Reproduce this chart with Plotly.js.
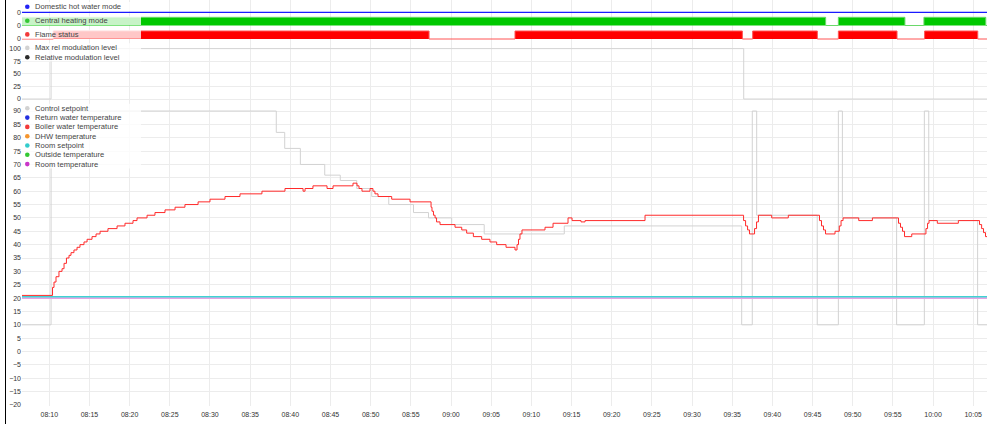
<!DOCTYPE html>
<html><head><meta charset="utf-8">
<script src="https://cdn.plot.ly/plotly-3.0.1.min.js"></script>
<style>html,body{margin:0;padding:0;background:#fff;} #chart{width:1000px;height:424px;}</style>
</head><body><div id="chart"></div>
<script>
const DAY = '2024-01-15 ';
const START = '08:06:36', END = '10:06:43';

const dhwModeTimes = ['08:06:36','10:06:43'];
const dhwModeValues = [0,0];

const chModeTimes = ['08:06:36','09:46:38','09:48:13','09:56:30','09:58:52','10:06:34','10:06:43'];
const chModeValues = [1,0,1,0,1,0,0];

const flameTimes = ['08:06:36','08:10:30','08:57:16','09:07:58','09:36:16','09:37:33','09:45:36','09:48:13','09:55:31','09:58:57','10:05:34','10:06:43'];
const flameValues = [0,1,0,1,0,1,0,1,0,1,0,0];

const maxModTimes = ['08:06:36','08:10:13','09:36:26','10:06:43'];
const maxModValues = [0,100,0,0];

const setpointTimes = ['08:06:36','08:10:13','08:38:15','08:39:18','08:41:15','08:44:17','08:46:13','08:48:16','08:50:08','08:52:15','08:55:20','08:57:12','09:00:05','09:04:08','09:14:06','09:36:11','09:37:30','09:38:03','09:45:35','09:48:13','09:48:43','09:55:28','09:58:55','09:59:28','10:05:33','10:06:43'];
const setpointValues = [10,90,82,76,70,66,64,61,58,55,52,50,47.5,44,47,10,90,51,10,90,50,10,90,49,10,10];

const boilerTimes = ['08:06:36','08:10:24','08:10:35','08:10:50','08:11:12','08:11:35','08:11:50','08:12:08','08:12:27','08:12:42','08:13:04','08:13:27','08:13:49','08:14:19','08:14:42','08:15:19','08:15:49','08:16:19','08:17:18','08:18:26','08:19:25','08:20:25','08:20:55','08:22:10','08:23:09','08:24:24','08:25:39','08:26:53','08:28:31','08:30:00','08:31:52','08:33:44','08:36:28','08:39:20','08:41:35','08:41:50','08:42:49','08:44:34','08:45:19','08:47:48','08:48:18','08:48:33','08:48:55','08:49:55','08:50:17','08:50:32','08:50:55','08:52:37','08:54:54','08:57:31','08:57:38','08:57:49','08:58:01','08:58:12','08:58:38','09:00:30','09:01:20','09:01:57','09:02:47','09:03:49','09:04:51','09:05:41','09:06:51','09:07:58','09:08:13','09:08:24','09:08:35','09:08:50','09:11:42','09:12:42','09:14:34','09:15:04','09:16:11','09:16:41','09:24:09','09:36:25','09:36:40','09:36:55','09:37:09','09:37:47','09:38:02','09:38:16','09:39:55','09:41:59','09:45:52','09:46:07','09:46:22','09:46:37','09:47:48','09:48:20','09:48:33','09:48:48','09:50:45','09:52:27','09:55:42','09:55:57','09:56:12','09:56:27','09:57:21','09:59:07','09:59:19','09:59:30','10:00:32','10:03:09','10:05:47','10:06:03','10:06:17','10:06:32','10:06:43'];
const boilerValues = [21,24,26,28,30,31,33,35,36,37,38,39,40,41,42,43,44,45,46,47,48,49,50,51,52,53,54,55,56,57,58,59,60,61,60,61,62,61,62,63,62,61,60,61,60,59,58,57,56,54,52.5,51,50,48.5,47.5,46.5,45.5,44.3,43,42,41,40,39,38,40,42,44,45.5,46.5,48,50,49,48.5,49,51,49,47,45.5,44,46,48.5,51,50,51,49,47,45.5,44,45,47,49,50,49,50,48,46.5,45,43,44,46,48,49,48,49,47.5,46,44.5,43,43];

const roomSetpointTimes = ['08:06:36','10:06:43'];
const roomSetpointValues = [20.5,20.5];
const roomTempTimes = ['08:06:36','10:06:43'];
const roomTempValues = [20,20];

const yTicksTemp = [-20,-15,-10,-5,0,5,10,15,20,25,30,35,40,45,50,55,60,65,70,75,80,85,90];
const yTicksMod = [0,25,50,75,100];
const xTickStart = '08:10:00';

const legendNames = [
  ['Domestic hot water mode'],
  ['Central heating mode'],
  ['Flame status'],
  ['Max rel modulation level','Relative modulation level'],
  ['Control setpoint','Return water temperature','Boiler water temperature','DHW temperature','Room setpoint','Outside temperature','Room temperature']
];
const legendColors = [
  ['#2323f5'],
  ['#33c833'],
  ['#f23a3a'],
  ['#d2d2d2','#2b2b2b'],
  ['#d2d2d2','#2330e0','#f23a3a','#f5962f','#33cccc','#33c833','#c936c9']
];

// ---------- layout geometry (pixels) ----------
const W = 1000, H = 424, ML = 22, MR = 13, MT = 0, MB = 18;
const PW = W - ML - MR, PH = H - MT - MB;
const px = x => (x - ML) / PW;
const py = y => 1 - (y - MT) / PH;
const dom = (top, bot) => [py(bot), py(top)];
const T = a => a.map(s => DAY + s);

const FONT = 'Liberation Sans, Arial, sans-serif';
const tickFont = {family: FONT, size: 7, color: '#333'};
const GRID = '#ececec';

const traces = [
  {x: T(dhwModeTimes), y: dhwModeValues, yaxis: 'y', type: 'scatter', mode: 'lines',
   line: {shape: 'hv', color: '#1a1aff', width: 1.3}, fill: 'tozeroy', fillcolor: '#1a1aff'},
  {x: T(chModeTimes), y: chModeValues, yaxis: 'y2', type: 'scatter', mode: 'lines',
   line: {shape: 'hv', color: '#6ad86a', width: 1}, fill: 'tozeroy', fillcolor: '#00c800'},
  {x: T(flameTimes), y: flameValues, yaxis: 'y3', type: 'scatter', mode: 'lines',
   line: {shape: 'hv', color: '#ff5555', width: 1}, fill: 'tozeroy', fillcolor: '#ff0000'},
  {x: T(maxModTimes), y: maxModValues, yaxis: 'y4', type: 'scatter', mode: 'lines',
   line: {shape: 'hv', color: '#d4d4d4', width: 1}},
  {x: T(setpointTimes), y: setpointValues, yaxis: 'y5', type: 'scatter', mode: 'lines',
   line: {shape: 'hv', color: '#d2d2d2', width: 1}},
  {x: T(roomTempTimes), y: roomTempValues, yaxis: 'y5', type: 'scatter', mode: 'lines',
   line: {shape: 'hv', color: '#e5a2e5', width: 1.6}},
  {x: T(roomSetpointTimes), y: roomSetpointValues, yaxis: 'y5', type: 'scatter', mode: 'lines',
   line: {shape: 'hv', color: '#3fd2d2', width: 1.3}},
  {x: T(boilerTimes), y: boilerValues, yaxis: 'y5', type: 'scatter', mode: 'lines',
   line: {shape: 'hv', color: '#ff2a2a', width: 1}}
];

function binAxis(top, bot, zeroPx, onePx) {
  const k = zeroPx - onePx;
  return {domain: dom(top, bot), range: [-(bot - zeroPx) / k, 1 + (onePx - top) / k],
    tickvals: [0], ticktext: ['0'], showgrid: false, zeroline: false, showline: false,
    ticks: '', tickfont: tickFont, fixedrange: true, automargin: false};
}

const legendTop = [6.7, 20.7, 34.4, 47.9, 108.3];
const legendStep = 9.3;
const shapes = [];
const annotations = [];
legendNames.forEach((names, g) => {
  const y0 = legendTop[g] - 4.6, y1 = legendTop[g] + (names.length - 1) * legendStep + 4.4;
  shapes.push({type: 'rect', xref: 'paper', yref: 'paper', x0: px(22), x1: px(141), y0: py(y1), y1: py(y0),
    fillcolor: 'rgba(255,255,255,0.78)', line: {width: 0}, layer: 'above'});
  names.forEach((n, i) => {
    const yy = legendTop[g] + i * legendStep;
    shapes.push({type: 'circle', xref: 'paper', yref: 'paper', xsizemode: 'pixel', ysizemode: 'pixel',
      xanchor: px(27.3), yanchor: py(yy), x0: -2.3, x1: 2.3, y0: -2.3, y1: 2.3,
      fillcolor: legendColors[g][i], line: {width: 0}, layer: 'above'});
    annotations.push({xref: 'paper', yref: 'paper', x: px(32.5), y: py(yy), xanchor: 'left', yanchor: 'middle',
      text: n, showarrow: false, font: {family: FONT, size: 7.6, color: '#444'}});
  });
});
shapes.push({type: 'line', xref: 'paper', yref: 'paper', x0: px(5.5), x1: px(5.5), y0: py(0), y1: py(H),
  line: {color: '#000', width: 1}, layer: 'above'});

const layout = {
  width: W, height: H, margin: {l: ML, r: MR, t: MT, b: MB, pad: 0},
  paper_bgcolor: '#fff', plot_bgcolor: '#fff', showlegend: false, hovermode: false,
  xaxis: {type: 'date', range: [DAY + START, DAY + END], anchor: 'y5', tickformat: '%H:%M',
    dtick: 300000, tick0: DAY + xTickStart, showgrid: true, gridcolor: GRID, gridwidth: 1,
    zeroline: false, showline: false, ticks: '', ticklabelstandoff: 3, tickfont: tickFont, fixedrange: true, automargin: false},
  yaxis: binAxis(0, 14, 12.3, 4),
  yaxis2: binAxis(14, 28, 25.5, 17.3),
  yaxis3: binAxis(28, 42, 39, 31),
  yaxis4: (() => { const k = (99 - 48.6) / 100; return {domain: dom(42, 101), range: [-(101 - 99) / k, 100 + (48.6 - 42) / k],
    tickvals: yTicksMod, showgrid: true, gridcolor: GRID, zeroline: false, showline: false, ticks: '',
    tickfont: tickFont, fixedrange: true, automargin: false}; })(),
  yaxis5: (() => { const k = (405 - 111) / 110; return {domain: dom(101, 406), range: [-20 - (406 - 405) / k, 90 + (111 - 101) / k],
    tickvals: yTicksTemp, showgrid: true, gridcolor: GRID, zeroline: false, showline: false, ticks: '',
    tickfont: tickFont, fixedrange: true, automargin: false}; })(),
  shapes: shapes, annotations: annotations
};

Plotly.newPlot('chart', traces, layout, {displayModeBar: false, staticPlot: true});
</script></body></html>
